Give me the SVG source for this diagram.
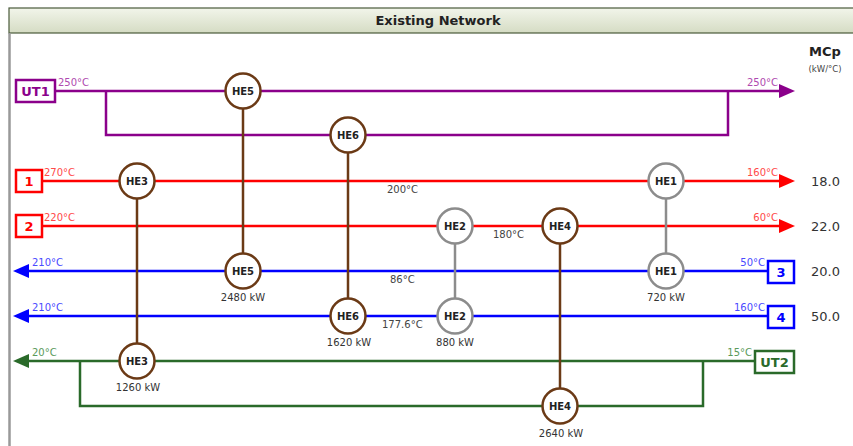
<svg xmlns="http://www.w3.org/2000/svg" width="853" height="446" viewBox="0 0 853 446">
<defs>
<linearGradient id="tg" x1="0" y1="0" x2="0" y2="1">
<stop offset="0" stop-color="#f2f5ea"/>
<stop offset="1" stop-color="#d5dcc4"/>
</linearGradient>
</defs>
<style>
text{font-family:"DejaVu Sans",sans-serif}
.he circle{fill:#fff;stroke-width:2.5}
.hb circle{stroke:#6b3a16}
.hg circle{stroke:#8c8c8c}
.he text{font-size:10px;font-weight:bold;fill:#222;text-anchor:middle}
.he text.kw{font-size:10px;font-weight:normal;fill:#333;text-anchor:middle}
.t{font-size:10px}
.mid{font-size:10px;fill:#444}
.mcp{font-size:13px;fill:#333}
.bx{fill:#fff;stroke-width:2.5}
.bt{font-size:13px;font-weight:bold;text-anchor:middle}
line,polyline{fill:none;stroke-width:2.5}
</style>
<rect x="0" y="0" width="853" height="446" fill="#fff"/>
<g id="title">
<rect x="9" y="8" width="850" height="25" fill="url(#tg)" stroke="#4a5a3a" stroke-width="1.2"/>
<text x="438" y="25" font-size="13" font-weight="bold" fill="#222" text-anchor="middle">Existing Network</text>
<line x1="9.5" y1="33" x2="9.5" y2="446" stroke="#999" stroke-width="1.5"/>
</g>
<g id="mcp-header">
<text x="825" y="56" font-size="13" font-weight="bold" fill="#222" text-anchor="middle">MCp</text>
<text x="825" y="72" font-size="8.5" fill="#444" text-anchor="middle">(kW/°C)</text>
</g>
<g id="connectors">
<line x1="55" y1="91" x2="781" y2="91" stroke="#8b008b"/>
<polyline points="106,91 106,135 728,135 728,91" stroke="#8b008b"/>
<polygon points="779,84 795,91 779,98" fill="#8b008b"/>
<line x1="42" y1="181" x2="781" y2="181" stroke="#ff0000"/>
<polygon points="779,174 795,181 779,188" fill="#ff0000"/>
<line x1="42" y1="226" x2="781" y2="226" stroke="#ff0000"/>
<polygon points="779,219 795,226 779,233" fill="#ff0000"/>
<line x1="27" y1="271" x2="767" y2="271" stroke="#0000ff"/>
<polygon points="29,264 13,271 29,278" fill="#0000ff"/>
<line x1="27" y1="316" x2="767" y2="316" stroke="#0000ff"/>
<polygon points="29,309 13,316 29,323" fill="#0000ff"/>
<line x1="27" y1="361" x2="754" y2="361" stroke="#2a6a2a"/>
<polyline points="80,361 80,406 703,406 703,361" stroke="#2a6a2a"/>
<polygon points="29,354 13,361 29,368" fill="#2a6a2a"/>
<line x1="243" y1="91" x2="243" y2="271" stroke="#6b3a16"/>
<line x1="348" y1="135" x2="348" y2="316" stroke="#6b3a16"/>
<line x1="137" y1="181" x2="137" y2="361" stroke="#6b3a16"/>
<line x1="560" y1="226" x2="560" y2="406" stroke="#6b3a16"/>
<line x1="666" y1="181" x2="666" y2="271" stroke="#8c8c8c"/>
<line x1="455" y1="226" x2="455" y2="316" stroke="#8c8c8c"/>
</g>
<g id="UT1">
<rect class="bx" x="16" y="80" width="39" height="22" stroke="#8b008b"/>
<text class="bt" x="35.5" y="96" fill="#8b008b">UT1</text>
<text class="t" x="58" y="86" fill="#b04ab0">250°C</text>
<text class="t" x="778" y="86" fill="#b04ab0" text-anchor="end">250°C</text>
</g>
<g id="S1">
<rect class="bx" x="16" y="170" width="26" height="22" stroke="#ff0000"/>
<text class="bt" x="29" y="186" fill="#ff0000">1</text>
<text class="t" x="44" y="176" fill="#ff4a4a">270°C</text>
<text class="t" x="778" y="176" fill="#ff4a4a" text-anchor="end">160°C</text>
<text class="mcp" x="811" y="186">18.0</text>
<text class="mid" x="387" y="193">200°C</text>
</g>
<g id="S2">
<rect class="bx" x="16" y="215" width="26" height="22" stroke="#ff0000"/>
<text class="bt" x="29" y="231" fill="#ff0000">2</text>
<text class="t" x="44" y="221" fill="#ff4a4a">220°C</text>
<text class="t" x="778" y="221" fill="#ff4a4a" text-anchor="end">60°C</text>
<text class="mcp" x="811" y="231">22.0</text>
<text class="mid" x="493" y="238">180°C</text>
</g>
<g id="S3">
<rect class="bx" x="768" y="261" width="26" height="22" stroke="#0000ff"/>
<text class="bt" x="781" y="277" fill="#0000ff">3</text>
<text class="t" x="32" y="266" fill="#4a4aff">210°C</text>
<text class="t" x="765" y="266" fill="#4a4aff" text-anchor="end">50°C</text>
<text class="mcp" x="811" y="276">20.0</text>
<text class="mid" x="390" y="283">86°C</text>
</g>
<g id="S4">
<rect class="bx" x="768" y="306" width="26" height="22" stroke="#0000ff"/>
<text class="bt" x="781" y="322" fill="#0000ff">4</text>
<text class="t" x="32" y="311" fill="#4a4aff">210°C</text>
<text class="t" x="765" y="311" fill="#4a4aff" text-anchor="end">160°C</text>
<text class="mcp" x="811" y="321">50.0</text>
<text class="mid" x="382" y="328">177.6°C</text>
</g>
<g id="UT2">
<rect class="bx" x="755" y="351" width="39" height="22" stroke="#2a6a2a"/>
<text class="bt" x="774.5" y="367" fill="#2a6a2a">UT2</text>
<text class="t" x="32" y="356" fill="#5a9a5a">20°C</text>
<text class="t" x="752" y="356" fill="#5a9a5a" text-anchor="end">15°C</text>
</g>
<g id="HE5-hot" class="he hb"><circle cx="243" cy="91" r="17.5"/><text x="243" y="95">HE5</text></g>
<g id="HE6-hot" class="he hb"><circle cx="348" cy="135" r="17.5"/><text x="348" y="139">HE6</text></g>
<g id="HE3-hot" class="he hb"><circle cx="137" cy="181" r="17.5"/><text x="137" y="185">HE3</text></g>
<g id="HE1-hot" class="he hg"><circle cx="666" cy="181" r="17.5"/><text x="666" y="185">HE1</text></g>
<g id="HE2-hot" class="he hg"><circle cx="455" cy="226" r="17.5"/><text x="455" y="230">HE2</text></g>
<g id="HE4-hot" class="he hb"><circle cx="560" cy="226" r="17.5"/><text x="560" y="230">HE4</text></g>
<g id="HE5-cold" class="he hb"><circle cx="243" cy="271" r="17.5"/><text x="243" y="275">HE5</text><text class="kw" x="243" y="301">2480 kW</text></g>
<g id="HE1-cold" class="he hg"><circle cx="666" cy="271" r="17.5"/><text x="666" y="275">HE1</text><text class="kw" x="666" y="301">720 kW</text></g>
<g id="HE6-cold" class="he hb"><circle cx="348" cy="316" r="17.5"/><text x="348" y="320">HE6</text><text class="kw" x="349" y="346">1620 kW</text></g>
<g id="HE2-cold" class="he hg"><circle cx="455" cy="316" r="17.5"/><text x="455" y="320">HE2</text><text class="kw" x="455" y="346">880 kW</text></g>
<g id="HE3-cold" class="he hb"><circle cx="137" cy="361" r="17.5"/><text x="137" y="365">HE3</text><text class="kw" x="138" y="391">1260 kW</text></g>
<g id="HE4-cold" class="he hb"><circle cx="560" cy="406" r="17.5"/><text x="560" y="410">HE4</text><text class="kw" x="561" y="437">2640 kW</text></g>
</svg>
